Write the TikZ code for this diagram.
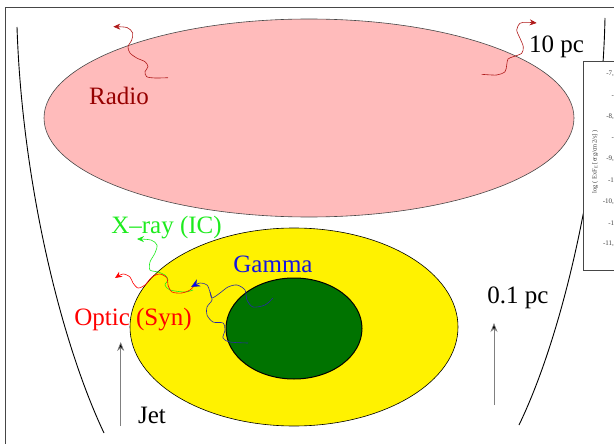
\documentclass[tikz,border=0pt]{standalone}
\usepackage{fontspec}
\setmainfont{Liberation Serif}
\usetikzlibrary{arrows.meta}
\definecolor{pinkfill}{RGB}{255,187,187}
\definecolor{radiored}{RGB}{150,0,0}
\definecolor{radioline}{RGB}{175,25,25}
\definecolor{xgreen}{RGB}{30,235,30}
\definecolor{gblue}{RGB}{20,20,225}
\definecolor{blueline}{RGB}{40,40,165}
\definecolor{dgreen}{RGB}{0,115,0}
\definecolor{framegray}{RGB}{70,70,70}
\begin{document}
\begin{tikzpicture}[x=1pt,y=-1pt,
  lbl/.style={font=\fontsize{25}{30}\selectfont, anchor=base, inner sep=0pt},
  photon/.style={line width=0.6pt, -{Stealth[length=7pt,width=6pt]}},
  uparrow/.style={draw=gray, line width=0.7pt, -{Stealth[length=9pt,width=7pt,fill=black]}},
  tick/.style={font=\fontsize{7}{8}\selectfont, anchor=east, inner sep=0pt, text=darkgray},
  jetline/.style={line width=0.9pt}]
\useasboundingbox (0,0) rectangle (614,444);
% frame
\draw[framegray, line width=0.8pt] (5.5,7) rectangle (650,470);
% jet walls
\draw[jetline] (17,27) .. controls (22,180) and (60,340) .. (104,433);
\draw[jetline] (605,18) .. controls (602,160) and (565,330) .. (519,425);
% plot box
\draw[framegray, fill=white, line width=0.8pt] (583,61) rectangle (660,270);
\node[rotate=90, font=\fontsize{6.5}{7}\selectfont, inner sep=0pt, text=darkgray] (ylab) at (595,162) {log ( ExF$_{\mathrm{E}}$ [erg/cm2/s] )};
\node[tick] (t1) at (617.6,73.7) {-7,5};
\node[tick] (t2) at (617.6,95.0) {-8};
\node[tick] (t3) at (617.6,116.3) {-8,5};
\node[tick] (t4) at (617.6,137.6) {-9};
\node[tick] (t5) at (617.6,158.9) {-9,5};
\node[tick] (t6) at (617.6,180.2) {-10};
\node[tick] (t7) at (617.6,201.5) {-10,5};
\node[tick] (t8) at (617.6,222.8) {-11};
\node[tick] (t9) at (617.6,244.1) {-11,5};
% radio region
\draw[fill=pinkfill, draw=framegray, line width=0.6pt] (309,118) ellipse [x radius=265, y radius=99];
\draw[photon, radioline] plot[smooth] coordinates {(168,77.7) (155,78) (146.7,76.7) (145,71.7) (148,66.7) (145,61.7) (136.7,58) (130,53) (128,46.7) (131.7,40) (132.7,33) (127,27.5) (113.3,26.7)};
\draw[photon, radioline] plot[smooth] coordinates {(481.7,74.3) (496.7,75) (505,71.7) (506.7,65) (508,59) (513.3,56.7) (521.7,53.3) (523.3,46.7) (520,38.3) (516.7,30) (520,23.3) (526.7,22.3) (536.7,23)};
% emission regions
\draw[fill=yellow, draw=black, line width=0.6pt] (294,327) ellipse [x radius=164, y radius=99];
\draw[fill=dgreen, draw=black, line width=1pt] (294,328.5) ellipse [x radius=68, y radius=50.5];
% photons
\draw[photon, xgreen] plot[smooth] coordinates {(193,290) (185,292) (170,290) (165,285) (168,280) (165,275) (158,272) (150,270) (150,262) (155,253) (157,245) (151,240) (137,239)};
\draw[photon, red] plot[smooth] coordinates {(195,285) (190,290) (182,293) (172,292) (168,285) (167,278) (160,274) (152,277) (145,285) (138,288) (133,283) (130,277) (123,274) (115,278)};
\draw[blueline, line width=0.6pt] plot[smooth] coordinates {(248,343) (230,342) (223,338) (225,330) (223,323) (213,322) (207,315) (207,307) (212,300) (210,292)};
\draw[blueline, line width=0.6pt, -{Stealth[length=9pt,width=8pt,fill=blue]}] plot[smooth] coordinates {(273,298) (265,305) (253,307) (247,300) (245,290) (237,285) (228,287) (220,293) (212,298) (210,292) (207,285) (200,283) (191,287)};
% labels
\node[lbl, radiored] (radio) at (119,105) {Radio};
\node[lbl] (tenpc) at (556.5,53) {10 pc};
\node[lbl, xgreen] (xray) at (166.5,233) {X--ray (IC)};
\node[lbl, gblue] (gamma) at (273,272) {Gamma};
\node[lbl, red] (optic) at (133,325) {Optic (Syn)};
\node[lbl] (tenthpc) at (518,303) {0.1 pc};
\node[lbl] (jet) at (152,423) {Jet};
% scale arrows
\coordinate (la0) at (120.7,426);
\coordinate (la1) at (120.7,342);
\coordinate (ra0) at (494,405);
\coordinate (ra1) at (494,323);
\draw[uparrow] (la0) -- (la1);
\draw[uparrow] (ra0) -- (ra1);
\end{tikzpicture}
\end{document}
